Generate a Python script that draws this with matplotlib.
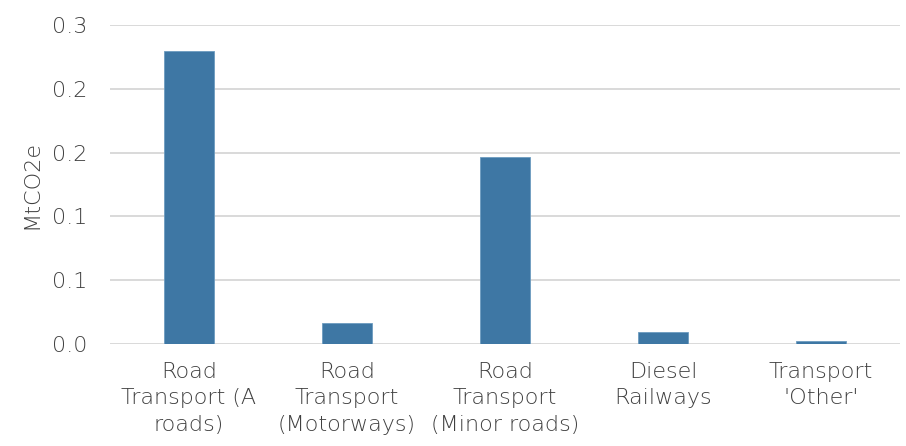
import matplotlib
matplotlib.use("Agg")
import matplotlib.pyplot as plt
from matplotlib.ticker import FixedLocator, FuncFormatter
from decimal import Decimal, ROUND_HALF_UP

categories = ["Road\nTransport (A\nroads)", "Road\nTransport\n(Motorways)",
              "Road\nTransport\n(Minor roads)", "Diesel\nRailways", "Transport\n'Other'"]
values = [0.2296, 0.0165, 0.1466, 0.0094, 0.0024]
y_ticks = [0.0, 0.05, 0.10, 0.15, 0.20, 0.25]

plt.rcParams['font.family'] = ['DejaVu Sans']
text_color = '#404040'
fs = 16


def one_decimal(v, _pos):
    return str(Decimal(str(round(v, 6))).quantize(Decimal('0.1'), rounding=ROUND_HALF_UP))


fig = plt.figure(figsize=(9.06, 4.46), dpi=100)
ax = fig.add_axes([0.1214, 0.229, 0.872, 0.715])

x = range(len(categories))
ax.bar(x, values, width=0.32, color='#3E77A4', edgecolor='#6c9bc0', linewidth=0.6, zorder=3)

ax.set_xlim(-0.5, len(categories) - 0.5)
ax.set_ylim(0, 0.25)
ax.yaxis.set_major_locator(FixedLocator(y_ticks))
ax.yaxis.set_major_formatter(FuncFormatter(one_decimal))
ax.grid(axis='y', color='#d9d9d9', linewidth=1.4, zorder=0)
ax.set_axisbelow(True)

for s in ax.spines.values():
    s.set_visible(False)

ax.set_xticks(list(x))
ax.set_xticklabels(categories, fontsize=fs, color=text_color, linespacing=1.4,
                   fontweight='light')
ax.tick_params(axis='x', length=0, pad=13)
ax.tick_params(axis='y', length=0, pad=16, labelsize=fs, labelcolor=text_color)
for t in ax.get_yticklabels():
    t.set_fontweight('light')
ax.set_ylabel('MtCO2e', fontsize=fs, color=text_color, labelpad=8, fontweight='light')

fig.savefig('out.png', dpi=100)
